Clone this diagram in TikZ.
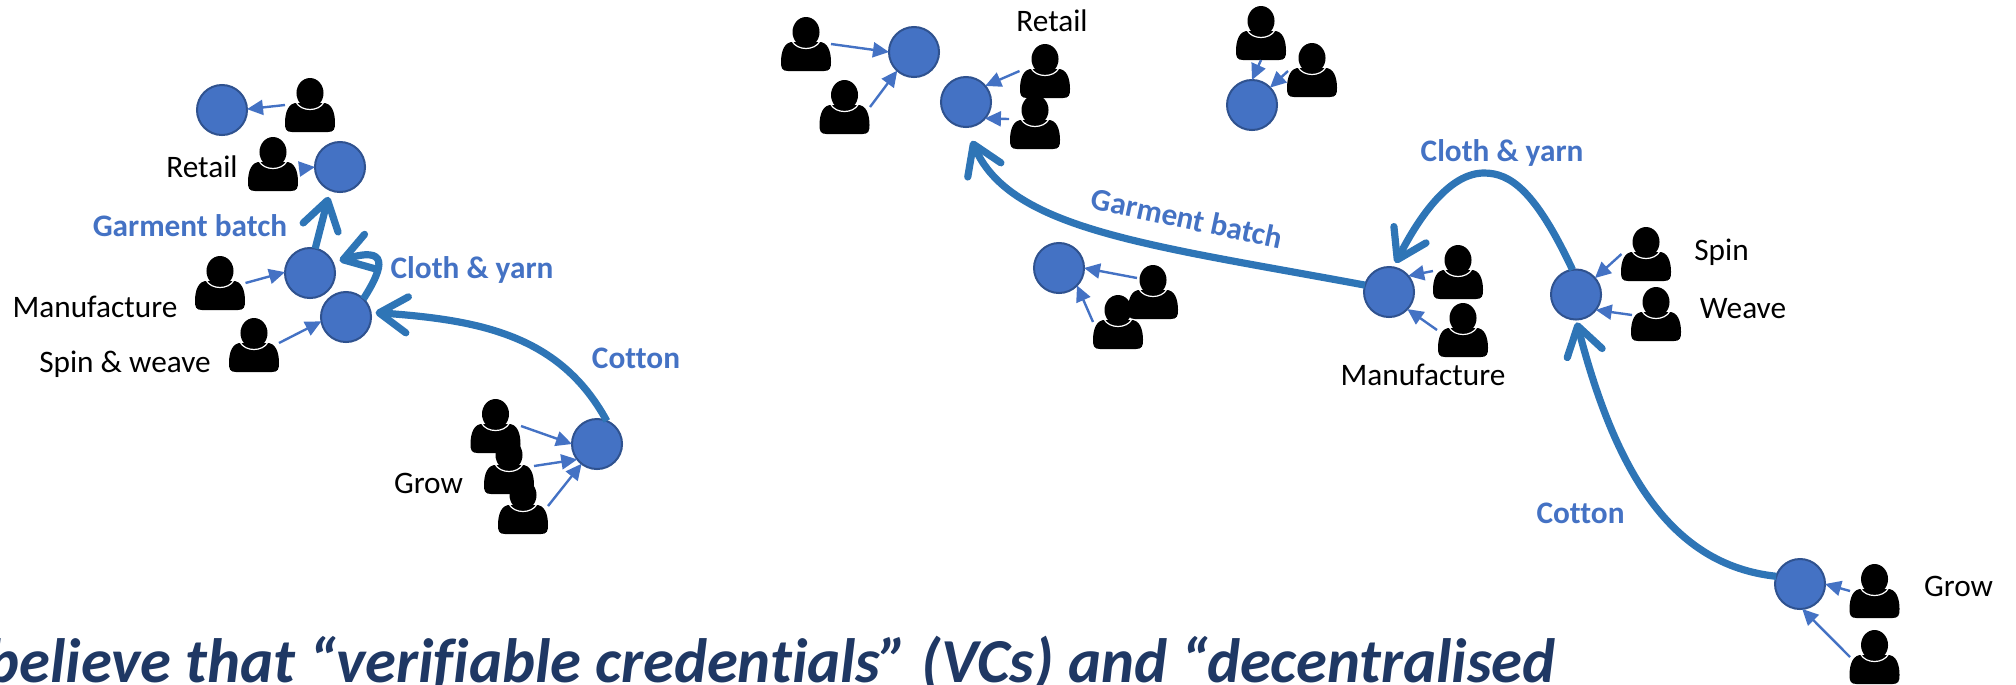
\documentclass[tikz,border=0pt]{standalone}
\usepackage{fontspec}
\setmainfont[RawFeature={-liga;-clig;-calt;-dlig}]{Carlito}
\usetikzlibrary{arrows.meta}
\definecolor{stagefill}{HTML}{4472C4}
\definecolor{stageline}{HTML}{2F528F}
\definecolor{flowblue}{HTML}{2E75B6}
\definecolor{navy}{HTML}{1F3864}
\tikzset{
  stage/.style={circle,minimum size=.5cm,inner sep=0pt,outer sep=0pt,fill=stagefill,draw=stageline,line width=.02cm},
  person/.style={rectangle,minimum width=.54cm,minimum height=.56cm,inner sep=0pt,outer sep=0pt,
    path picture={
      \begin{scope}[shift={(path picture bounding box.center)}]
        \fill[black] (-18,27) .. controls (-24,27) and (-25,24) .. (-25,18)
          .. controls (-25,8) and (-22,-3) .. (-12,-2) -- (12,-2)
          .. controls (22,-3) and (25,8) .. (25,18)
          .. controls (25,24) and (24,27) .. (18,27) -- cycle;
        \draw[white,line width=.012cm] (-14,-3) .. controls (-9,7) and (9,7) .. (14,-3);
        \fill[black] (0,-12) ellipse [x radius=.135cm,y radius=.15cm];
      \end{scope}
    }},
  linkarr/.style={draw=stagefill,line width=.024cm,-{Triangle[length=.16cm,width=.15cm]}},
  flowarr/.style={draw=flowblue,line width=.072cm,-{Straight Barb[length=.28cm,width=.36cm,round]}},
  lbl/.style={font=\fontsize{8.9}{10}\selectfont,text=black,inner sep=0pt},
  flowlbl/.style={font=\fontsize{8.9}{10}\selectfont\bfseries,text=stagefill,inner sep=0pt},
  headline/.style={font=\fontsize{17.8}{20}\selectfont\bfseries\itshape,text=navy,inner sep=0pt,anchor=base east}
}
\newcommand{\lnk}[4]{\draw[linkarr] ([shift={(#2)}]#1.center) -- (#3.#4);}
\begin{document}
\begin{tikzpicture}[x=0.01cm,y=-0.01cm]
\path[use as bounding box] (0,0) rectangle (2016,684);
\clip (0,0) rectangle (2016,684);
% left group
\node[stage] (A) at (222,110) {};
\node[stage] (B) at (340,167) {};
\node[stage] (C) at (310,273) {};
\node[stage] (D) at (346,317) {};
\node[stage] (E) at (597,444) {};
\node[person] (P1) at (310,105) {};
\node[person] (P2) at (273,164) {};
\node[person] (P3) at (220,283) {};
\node[person] (P4) at (254,345) {};
\node[person] (P5) at (495.5,426) {};
\node[person] (P6) at (509,467) {};
\node[person] (P7) at (523,507) {};
% right group
\node[stage] (F) at (914,52) {};
\node[stage] (G) at (966,102) {};
\node[stage] (H) at (1252,105) {};
\node[stage] (I) at (1059,268) {};
\node[stage] (J) at (1389,292) {};
\node[stage] (K) at (1576,294.5) {};
\node[stage] (L) at (1800,584) {};
\node[person] (P8) at (806,44) {};
\node[person] (P9) at (844.5,107) {};
\node[person] (P10) at (1045,71) {};
\node[person] (P11) at (1035,122) {};
\node[person] (P12) at (1261,33) {};
\node[person] (P13) at (1312,70) {};
\node[person] (P14) at (1153,292) {};
\node[person] (P15) at (1118,322) {};
\node[person] (P16) at (1458,272) {};
\node[person] (P17) at (1463,330) {};
\node[person] (P18) at (1646,254) {};
\node[person] (P19) at (1656,314) {};
\node[person] (P20) at (1874.5,591) {};
\node[person] (P21) at (1874.5,657) {};
% thin arrows
\lnk{P1}{-25,0}{A}{2}
\lnk{P2}{26,5}{B}{180}
\lnk{P3}{25.5,0}{C}{178}
\lnk{P4}{25,-2}{D}{190}
\lnk{P5}{25.5,0}{E}{180}
\lnk{P6}{25,-1}{E}{218}
\lnk{P7}{25,-1}{E}{232}
\lnk{P8}{25,0}{F}{180}
\lnk{P9}{25.5,0}{F}{228}
\lnk{P10}{-25.5,0}{G}{40}
\lnk{P11}{-26,-3}{G}{319}
\lnk{P12}{0,27}{H}{90}
\lnk{P13}{-24,1}{H}{44}
\lnk{P14}{-16,-14}{I}{0}
\lnk{P15}{-25,0}{I}{-44}
\lnk{P16}{-25,-1}{J}{40}
\lnk{P17}{-26,0}{J}{-43}
\lnk{P18}{-24.5,0}{K}{41}
\lnk{P19}{-24,1}{K}{-38}
\lnk{P20}{-24.5,0}{L}{0}
\lnk{P21}{-24.5,0}{L}{-85}
% thick flows, left
\draw[flowarr,shorten >=.05cm] (E.67) .. controls (560,335) and (480,320) .. (D.11);
\draw[flowarr,shorten >=.07cm] (D.46) .. controls (385,265) and (388,246) .. (C.24);
\draw[flowarr,shorten >=.07cm] (C.78) -- (B.247);
% thick flows, right
\draw[flowarr,shorten >=.15cm] (J.164) .. controls (1150,245) and (1010,230) .. (G.270);
\draw[flowarr,shorten >=.05cm] (K.98) .. controls (1535,190) and (1510,173) .. (1484,173)
  .. controls (1450,173) and (1420,215) .. (J.80);
\draw[flowarr,shorten >=.03cm] (L.162) .. controls (1670,565) and (1615,470) .. (K.270);
% labels, left
\node[lbl] (t1) at (202,167) {Retail};
\node[flowlbl] (t2) at (190,226) {Garment batch};
\node[flowlbl] (t3) at (472,270) {Cloth \& yarn};
\node[lbl] (t4) at (95,307) {Manufacture};
\node[lbl] (t5) at (125,364) {Spin \& weave};
\node[flowlbl] (t6) at (636,358) {Cotton};
\node[lbl] (t7) at (428.5,483) {Grow};
% labels, right
\node[lbl] (t8) at (1052,21) {Retail};
\node[flowlbl,rotate=-12] (t9) at (1187,218) {Garment batch};
\node[flowlbl] (t10) at (1502,153) {Cloth \& yarn};
\node[lbl] (t11) at (1721.5,252) {Spin};
\node[lbl] (t12) at (1743,309) {Weave};
\node[lbl] (t13) at (1423,375) {Manufacture};
\node[flowlbl] (t14) at (1580.5,513) {Cotton};
\node[lbl] (t15) at (1958.5,586) {Grow};
\node[headline] (t16) at (1556,682) {believe that “verifiable credentials” (VCs) and “decentralised};
\end{tikzpicture}
\end{document}
